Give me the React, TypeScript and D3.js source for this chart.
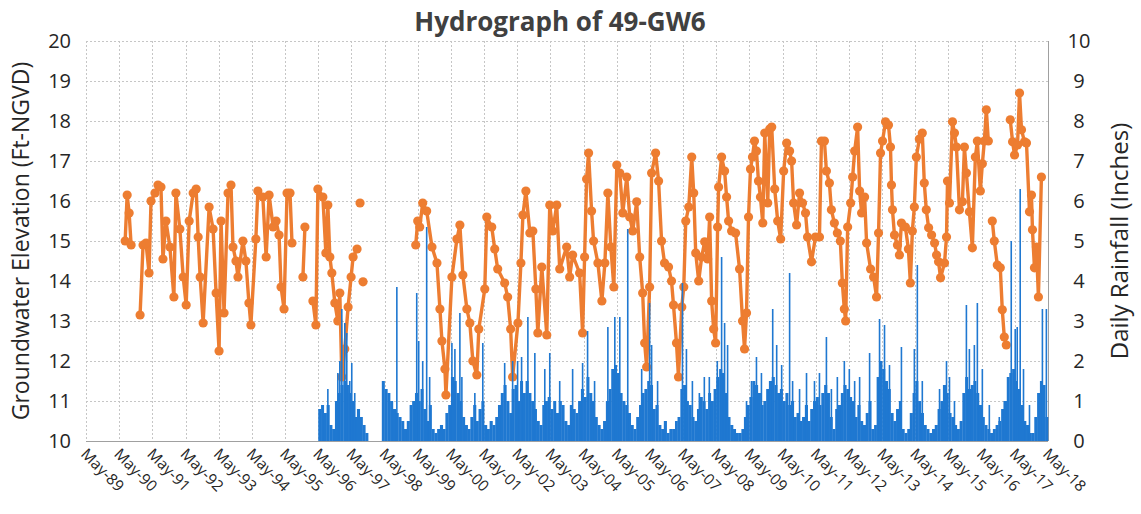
import React, { useEffect, useRef } from 'react';
import * as d3 from 'd3';

// groundwater readings: decimal year / elevation (ft NGVD), null = break in record
const gwYears = [
  1990.51, 1990.57, 1990.63, 1990.69, null,
  1990.96, 1991.05, 1991.14, 1991.23, 1991.29, 1991.41, 1991.50, 1991.59, 1991.65, 1991.74,
  1991.86, 1991.98, 1992.04, 1992.16, 1992.26, 1992.35, 1992.44, 1992.56, 1992.65, 1992.71,
  1992.77, 1992.86, 1993.04, 1993.16, 1993.25, 1993.34, 1993.40, 1993.49, 1993.61, 1993.70,
  1993.76, 1993.85, 1993.91, 1994.06, 1994.15, 1994.24, 1994.30, 1994.45, 1994.51, 1994.66,
  1994.76, 1994.85, 1994.97, 1995.06, 1995.15, 1995.21, 1995.30, 1995.39, 1995.48, 1995.54, null,
  1995.87, 1995.93, null,
  1996.17, 1996.26, 1996.32, 1996.47, 1996.56, 1996.62, 1996.68, 1996.74, 1996.83, 1996.92,
  1996.98, 1997.04, 1997.13, 1997.23, 1997.32, 1997.38, 1997.50, null,
  1997.59, null,
  1997.68, null,
  1999.27, 1999.33, 1999.39, 1999.48, 1999.60, 1999.76, 1999.91, 2000.00, 2000.06, 2000.15,
  2000.18, 2000.36, 2000.51, 2000.60, 2000.69, 2000.81, 2000.90, 2000.99, 2001.11, 2001.17,
  2001.35, 2001.41, 2001.56, 2001.65, 2001.74, 2001.95, 2002.04, 2002.13, 2002.19, 2002.35,
  2002.44, 2002.50, 2002.59, 2002.71, 2002.80, 2002.89, 2002.95, 2003.07, 2003.22, 2003.31,
  2003.40, 2003.52, 2003.61, 2003.82, 2003.91, 2004.00, 2004.21, 2004.30, 2004.36, 2004.42,
  2004.48, 2004.57, 2004.63, 2004.76, 2004.88, 2004.97, 2005.06, 2005.15, 2005.24, 2005.33,
  2005.42, 2005.51, 2005.63, 2005.72, 2005.81, 2005.93, 2006.02, 2006.11, 2006.17, 2006.23,
  2006.32, 2006.38, 2006.50, 2006.59, 2006.68, 2006.77, 2006.89, 2006.98, 2007.04, 2007.13,
  2007.19, 2007.29, 2007.35, 2007.41, 2007.50, 2007.59, 2007.65, 2007.71, 2007.80, 2007.89,
  2007.98, 2008.07, 2008.13, 2008.19, 2008.25, 2008.31, 2008.37, 2008.40, 2008.49, 2008.58,
  2008.64, 2008.70, 2008.79, 2008.91, 2009.03, 2009.12, 2009.18, 2009.24, 2009.30, 2009.36,
  2009.42, 2009.48, 2009.54, 2009.60, 2009.66, 2009.73, 2009.79, 2009.88, 2009.94, 2010.00,
  2010.09, 2010.18, 2010.27, 2010.36, 2010.45, 2010.54, 2010.60, 2010.66, 2010.75, 2010.84,
  2010.93, 2011.02, 2011.08, 2011.20, 2011.32, 2011.44, 2011.50, 2011.59, 2011.65, 2011.74,
  2011.80, 2011.89, 2011.98, 2012.07, 2012.13, 2012.19, 2012.23, 2012.29, 2012.38, 2012.44,
  2012.50, 2012.59, 2012.65, 2012.71, 2012.80, 2012.86, 2012.98, 2013.07, 2013.16, 2013.22,
  2013.28, 2013.34, 2013.43, 2013.52, 2013.58, 2013.61, 2013.64, 2013.70, 2013.79, 2013.85,
  2013.91, 2014.03, 2014.12, 2014.18, 2014.24, 2014.30, 2014.36, 2014.45, 2014.54, 2014.60,
  2014.66, 2014.73, 2014.82, 2014.91, 2014.97, 2015.03, 2015.09, 2015.21, 2015.27, 2015.30,
  2015.36, 2015.45, 2015.51, 2015.57, 2015.66, 2015.75, 2015.81, 2015.87, 2015.96, 2016.05,
  2016.14, 2016.20, 2016.29, 2016.35, 2016.41, 2016.47, 2016.53, null,
  2016.65, 2016.71, 2016.80, 2016.89, 2016.95, 2017.01, 2017.07, null,
  2017.19, 2017.26, 2017.32, 2017.41, 2017.47, 2017.53, 2017.62, 2017.68, 2017.77, 2017.83,
  2017.86, 2017.92, 2017.98, 2018.04, 2018.13,
];

const gwLevels = [
  15.0, 16.15, 15.7, 14.9, null,
  13.15, 14.9, 14.95, 14.2, 16.0, 16.2, 16.4, 16.35, 14.55, 15.5,
  14.85, 13.6, 16.2, 15.3, 14.1, 13.4, 15.5, 16.2, 16.3, 15.1,
  14.1, 12.95, 15.85, 15.3, 13.7, 12.25, 15.5, 13.2, 16.2, 16.4,
  14.85, 14.5, 14.1, 15.0, 14.5, 13.45, 12.9, 15.05, 16.25, 16.1,
  14.6, 16.15, 15.35, 15.5, 15.15, 13.85, 13.3, 16.2, 16.2, 14.95, null,
  14.1, 15.35, null,
  13.5, 12.9, 16.3, 16.1, 14.7, 15.9, 14.6, 14.2, 13.45, 13.0,
  13.7, 11.6, 12.3, 13.35, 14.1, 14.6, 14.8, null,
  15.95, null,
  13.98, null,
  14.9, 15.5, 15.35, 15.95, 15.75, 14.85, 14.45, 13.3, 12.5, 11.8,
  11.15, 14.1, 15.05, 15.4, 14.15, 13.3, 12.95, 12.0, 11.65, 12.8,
  13.8, 15.6, 15.35, 14.8, 14.3, 13.95, 13.6, 12.8, 11.6, 12.95,
  14.45, 15.65, 16.25, 15.2, 15.25, 13.8, 12.7, 14.35, 12.65, 15.9,
  15.25, 15.9, 14.3, 14.85, 14.1, 14.65, 14.2, 12.7, 14.6, 16.55,
  17.2, 15.75, 15.0, 14.45, 13.5, 14.45, 16.2, 14.85, 13.85, 16.9,
  16.7, 15.7, 16.6, 15.6, 15.25, 15.98, 14.6, 13.7, 12.45, 11.85,
  13.85, 16.7, 17.2, 16.5, 15.0, 14.45, 14.35, 14.0, 13.4, 12.45,
  11.6, 13.35, 13.85, 15.5, 15.85, 17.1, 16.2, 14.7, 14.0, 14.6,
  14.98, 14.55, 15.6, 13.5, 12.8, 12.45, 15.35, 16.35, 17.1, 16.75,
  16.1, 15.5, 15.25, 15.2, 14.3, 13.0, 12.3, 13.2, 15.6, 16.8,
  17.1, 17.5, 17.25, 16.5, 16.1, 15.45, 17.7, 15.95, 17.8, 17.85,
  16.3, 15.5, 15.05, 16.75, 17.45, 17.25, 17.0, 15.95, 15.4, 16.2,
  15.95, 15.7, 15.1, 14.48, 15.1, 15.1, 17.5, 17.5, 16.75, 16.45,
  15.78, 15.45, 15.2, 15.0, 13.95, 13.3, 13.0, 15.35, 15.95, 16.6,
  17.25, 17.85, 16.25, 15.7, 16.1, 14.95, 14.3, 14.1, 13.6, 15.2,
  17.2, 17.5, 17.98, 17.9, 17.35, 16.4, 15.78, 15.15, 14.9, 14.65,
  15.45, 15.35, 14.8, 13.95, 15.25, 15.85, 17.1, 17.55, 17.7, 16.45,
  15.78, 15.33, 15.15, 14.95, 14.65, 14.48, 14.08, 14.45, 15.1, 16.5,
  15.95, 17.98, 17.7, 17.35, 15.78, 15.98, 17.35, 16.7, 15.73, 14.83,
  17.1, 17.5, 16.25, 16.93, 17.5, 18.28, 17.5, null,
  15.5, 15.0, 14.4, 14.33, 13.28, 12.6, 12.4, null,
  18.03, 17.48, 17.15, 17.4, 18.7, 17.78, 17.48, 17.45, 15.73, 16.15,
  15.28, 14.33, 14.85, 13.6, 16.6,
];

// daily rainfall (inches): typical wet-day totals per month, Jan..Dec
const rainYears = [1996, 1997, 1998, 1999, 2000, 2001, 2002, 2003, 2004, 2005, 2006, 2007,
  2008, 2009, 2010, 2011, 2012, 2013, 2014, 2015, 2016, 2017, 2018];
const rainMonthly = [
  [null, null, null, null, 0.8, 0.9, 0.7, 0.9, 0.4, 0.3, 1.0, 1.2],
  [1.4, 1.5, 1.4, 1.2, 1.0, 0.6, 0.8, 0.6, 0.4, 0.2, null, null],
  [null, null, null, 1.5, 1.3, 1.2, 1.0, 0.8, 0.7, 0.6, 0.5, 0.3],
  [0.5, 0.9, 1.0, 1.2, 1.0, 1.3, 0.8, 0.5, 0.9, 0.3, 0.2, 0.3],
  [0.4, 0.3, 0.7, 0.9, 1.6, 1.5, 1.2, 1.0, 0.6, 0.4, 0.3, 0.6],
  [0.9, 0.5, 0.8, 1.0, 0.4, 0.3, 0.5, 0.4, 0.6, 0.9, 1.2, 1.4],
  [1.0, 0.7, 1.3, 1.4, 1.0, 1.5, 1.2, 1.5, 1.2, 1.0, 0.8, 0.5],
  [0.4, 0.9, 1.0, 1.1, 0.8, 1.0, 0.7, 1.0, 0.9, 0.5, 0.4, 0.9],
  [0.8, 0.7, 1.0, 1.3, 1.1, 1.6, 1.2, 1.0, 0.6, 0.4, 0.3, 0.5],
  [1.0, 1.3, 1.8, 1.9, 1.7, 1.2, 1.0, 0.9, 0.7, 0.4, 0.3, 0.6],
  [0.9, 1.2, 1.3, 1.5, 1.4, 0.8, 0.9, 0.4, 0.3, 0.5, 0.2, 0.3],
  [0.3, 0.5, 0.6, 1.3, 1.4, 1.0, 0.9, 0.6, 0.5, 0.8, 1.1, 1.0],
  [0.8, 1.2, 1.0, 1.3, 1.6, 1.8, 1.7, 1.2, 0.6, 0.4, 0.3, 0.2],
  [0.2, 0.3, 0.6, 0.9, 1.1, 1.5, 1.4, 1.2, 0.9, 1.0, 1.3, 1.5],
  [1.6, 1.4, 1.2, 1.3, 1.0, 1.2, 0.9, 1.0, 0.6, 0.7, 0.5, 0.6],
  [0.9, 0.5, 0.8, 1.0, 1.1, 0.9, 1.2, 1.4, 1.2, 0.6, 0.3, 0.8],
  [0.9, 1.2, 1.4, 1.3, 1.1, 1.0, 0.6, 0.9, 0.5, 0.4, 0.7, 1.0],
  [0.3, 0.4, 1.6, 2.0, 1.8, 1.5, 1.3, 0.7, 0.5, 0.8, 1.0, 0.3],
  [0.2, 0.3, 0.7, 1.2, 1.5, 1.0, 0.7, 0.4, 0.3, 0.2, 0.3, 0.4],
  [0.8, 1.0, 1.4, 1.2, 0.7, 0.6, 0.4, 0.3, 0.5, 1.2, 1.6, 1.3],
  [1.4, 1.5, 1.2, 0.9, 0.6, 0.4, 0.3, 0.2, 0.3, 0.4, 0.5, 0.8],
  [1.0, 1.6, 1.7, 1.8, 1.5, 1.3, 0.9, 0.5, 0.4, 0.2, 0.2, 0.6],
  [1.2, 1.5, 1.4, 0.6, null, null, null, null, null, null, null, null],
];

// single storm days that stand above the monthly mass
const stormYears = [
  1996.62, 1996.92, 1996.98, 1997.04, 1997.13, 1997.19, 1997.28, 1997.34, 1997.43, 1998.70,
  1999.30, 1999.36, 1999.48, 1999.60, 1999.69, 2000.36, 2000.45, 2000.60, 2000.66, 2001.05,
  2001.29, 2001.95, 2002.19, 2002.34, 2002.46, 2002.65, 2002.86, 2003.16, 2003.31, 2003.61,
  2004.00, 2004.30, 2004.45, 2004.66, 2005.06, 2005.27, 2005.42, 2005.66, 2006.08, 2006.32,
  2006.38, 2006.56, 2007.31, 2007.43, 2007.61, 2007.82, 2007.97, 2008.12, 2008.36, 2008.49,
  2008.58, 2008.67, 2009.24, 2009.39, 2009.54, 2009.69, 2010.03, 2010.15, 2010.30, 2010.54,
  2010.63, 2010.84, 2011.05, 2011.29, 2011.44, 2011.65, 2011.80, 2011.98, 2012.19, 2012.34,
  2012.50, 2012.65, 2012.95, 2013.25, 2013.40, 2013.55, 2013.91, 2014.30, 2014.39, 2014.54,
  2015.06, 2015.27, 2015.36, 2015.51, 2015.87, 2015.96, 2016.11, 2016.20, 2016.35, 2016.56,
  2016.86, 2017.01, 2017.22, 2017.34, 2017.40, 2017.49, 2017.59, 2017.77, 2018.07, 2018.16,
  2018.28,
];
const stormInches = [
  1.3, 1.7, 2.0, 3.3, 2.95, 2.7, 1.5, 1.95, 1.2, 3.85,
  3.7, 2.5, 2.0, 5.35, 1.6, 2.45, 2.3, 3.2, 1.6, 1.2,
  2.45, 1.95, 2.0, 2.0, 2.1, 3.1, 2.2, 1.8, 2.2, 1.5,
  1.8, 1.95, 2.75, 1.5, 2.85, 3.1, 3.1, 5.3, 1.8, 3.45,
  2.4, 1.5, 3.95, 2.3, 1.5, 1.2, 1.6, 1.6, 2.0, 4.6,
  2.95, 2.4, 1.0, 1.5, 2.1, 1.7, 3.3, 2.4, 1.9, 4.2,
  1.5, 1.3, 1.7, 1.5, 1.7, 2.6, 1.3, 1.6, 2.0, 1.8,
  1.5, 1.6, 2.2, 3.05, 2.9, 1.9, 2.35, 2.3, 4.4, 1.5,
  1.3, 2.0, 1.6, 1.0, 3.4, 2.3, 2.4, 3.45, 1.8, 0.9,
  0.6, 1.0, 5.0, 2.8, 2.85, 6.3, 1.8, 0.9, 1.0, 3.3,
  3.3,
];

const tickYears = d3.range(1989, 2019);
const levelTicks = d3.range(10, 21);
const rainTicks = d3.range(0, 11);

const ORANGE = '#ED7D31';
const BLUE = '#1F78D1';
const FONT = "'Open Sans', 'DejaVu Sans', sans-serif";

const W = 1141;
const H = 514;
const margin = { top: 41, right: 93, bottom: 73, left: 86 };

function toDate(t: number) {
  const y = Math.floor(t);
  const a = new Date(y, 0, 1).getTime();
  const b = new Date(y + 1, 0, 1).getTime();
  return new Date(a + (t - y) * (b - a));
}

const App = () => {
  const ref = useRef<SVGSVGElement>(null);

  useEffect(() => {
    const svg = d3.select(ref.current);
    svg.selectAll('*').remove();

    const x = d3
      .scaleTime()
      .domain([new Date(1989, 4, 1), new Date(2018, 4, 1)])
      .range([margin.left, W - margin.right]);
    const yL = d3.scaleLinear().domain([10, 20]).range([H - margin.bottom, margin.top]);
    const yR = d3.scaleLinear().domain([0, 10]).range([H - margin.bottom, margin.top]);
    const x0 = margin.left;
    const x1 = W - margin.right;
    const yb = H - margin.bottom;

    // grid
    const grid = svg.append('g').attr('stroke', '#c6c6c6').attr('stroke-width', 1).attr('stroke-dasharray', '2,2');
    grid
      .selectAll('line.v')
      .data(tickYears)
      .join('line')
      .attr('class', 'v')
      .attr('x1', (d) => Math.round(x(new Date(d, 4, 1))) + 0.5)
      .attr('x2', (d) => Math.round(x(new Date(d, 4, 1))) + 0.5)
      .attr('y1', margin.top)
      .attr('y2', yb);
    grid
      .selectAll('line.h')
      .data(levelTicks)
      .join('line')
      .attr('class', 'h')
      .attr('x1', x0)
      .attr('x2', x1)
      .attr('y1', (d) => Math.round(yL(d)) + 0.5)
      .attr('y2', (d) => Math.round(yL(d)) + 0.5);

    svg.append('line').attr('x1', x0).attr('x2', x1).attr('y1', yb + 0.5).attr('y2', yb + 0.5).attr('stroke', '#a0a0a0');
    svg.append('line').attr('x1', x1 + 0.5).attr('x2', x1 + 0.5).attr('y1', margin.top).attr('y2', yb).attr('stroke', '#a0a0a0');

    // groundwater line + markers
    const gw = gwYears.map((t, i) => ({ t, v: gwLevels[i] }));
    const line = d3
      .line<{ t: number | null; v: number | null }>()
      .defined((d) => d.t != null && d.v != null)
      .x((d) => x(toDate(d.t as number)))
      .y((d) => yL(d.v as number));
    svg.append('path').datum(gw).attr('d', line).attr('fill', 'none').attr('stroke', ORANGE).attr('stroke-width', 3.4).attr('stroke-linejoin', 'round');
    svg
      .append('g')
      .selectAll('circle')
      .data(gw.filter((d) => d.t != null && d.v != null))
      .join('circle')
      .attr('cx', (d) => x(toDate(d.t as number)))
      .attr('cy', (d) => yL(d.v as number))
      .attr('r', 4.6)
      .attr('fill', ORANGE);

    // rainfall bars (secondary axis, drawn over the line)
    const months: { a: Date; b: Date; v: number }[] = [];
    rainYears.forEach((yr, i) => {
      rainMonthly[i].forEach((v, m) => {
        if (v != null) months.push({ a: new Date(yr, m, 1), b: new Date(yr, m + 1, 1), v });
      });
    });
    const rain = svg.append('g').attr('fill', BLUE);
    rain
      .selectAll('rect.m')
      .data(months)
      .join('rect')
      .attr('class', 'm')
      .attr('x', (d) => x(d.a))
      .attr('width', (d) => x(d.b) - x(d.a) + 0.3)
      .attr('y', (d) => yR(d.v))
      .attr('height', (d) => yb - yR(d.v));
    rain
      .selectAll('rect.s')
      .data(stormYears.map((t, i) => ({ t, v: stormInches[i] })))
      .join('rect')
      .attr('class', 's')
      .attr('x', (d) => x(toDate(d.t)) - 0.8)
      .attr('width', 1.6)
      .attr('y', (d) => yR(d.v))
      .attr('height', (d) => yb - yR(d.v));

    // axes text
    const txt = svg.append('g').attr('font-family', FONT).attr('fill', '#262626');
    txt
      .selectAll('text.l')
      .data(levelTicks)
      .join('text')
      .attr('class', 'l')
      .attr('x', 71)
      .attr('y', (d) => yL(d))
      .attr('dy', '0.36em')
      .attr('text-anchor', 'end')
      .attr('font-size', 20)
      .text((d) => d);
    txt
      .selectAll('text.r')
      .data(rainTicks)
      .join('text')
      .attr('class', 'r')
      .attr('x', 1079)
      .attr('y', (d) => yR(d))
      .attr('dy', '0.36em')
      .attr('text-anchor', 'middle')
      .attr('font-size', 20)
      .text((d) => d);
    const fmt = d3.timeFormat('%b-%y');
    txt
      .selectAll('text.x')
      .data(tickYears)
      .join('text')
      .attr('class', 'x')
      .attr('transform', (d) => `translate(${x(new Date(d, 4, 1)) - 6},${yb + 14}) rotate(45)`)
      .attr('text-anchor', 'start')
      .attr('font-size', 15.5)
      .text((d) => fmt(new Date(d, 4, 1)));

    txt
      .append('text')
      .attr('transform', `translate(29,${(margin.top + yb) / 2}) rotate(-90)`)
      .attr('text-anchor', 'middle')
      .attr('font-size', 23)
      .text('Groundwater Elevation (Ft-NGVD)');
    txt
      .append('text')
      .attr('transform', `translate(1128,${(margin.top + yb) / 2}) rotate(-90)`)
      .attr('text-anchor', 'middle')
      .attr('font-size', 24)
      .text('Daily Rainfall (Inches)');
    txt
      .append('text')
      .attr('x', 560)
      .attr('y', 31)
      .attr('text-anchor', 'middle')
      .attr('font-size', 26)
      .attr('font-weight', 'bold')
      .attr('fill', '#404040')
      .text('Hydrograph of 49-GW6');
  }, []);

  return (
    <svg
      ref={ref}
      width={W}
      height={H}
      style={{ position: 'absolute', left: 0, top: 0, background: '#fff' }}
    />
  );
};

export default App;
